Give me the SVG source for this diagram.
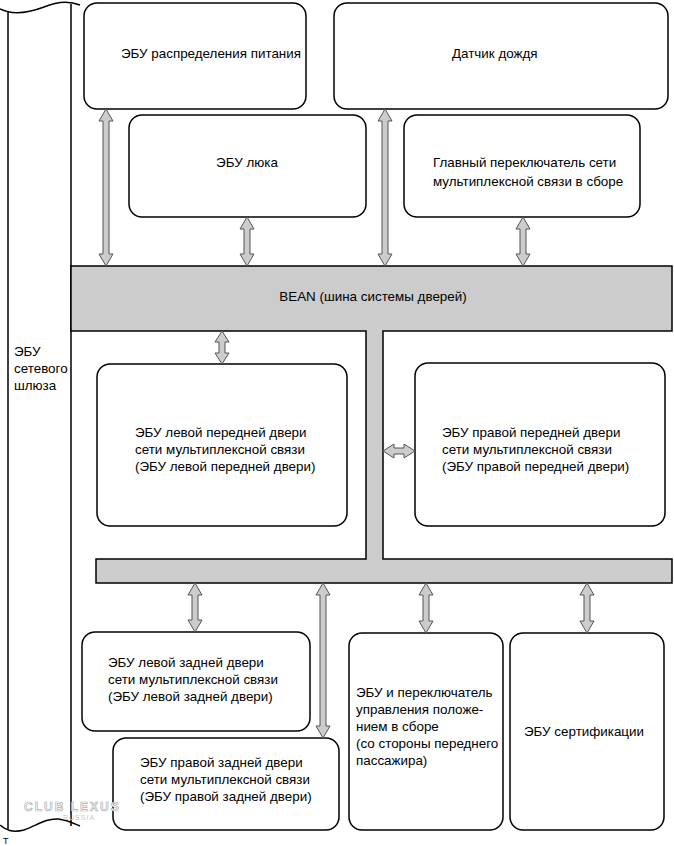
<svg xmlns="http://www.w3.org/2000/svg" width="674" height="846" viewBox="0 0 674 846">
<style>
.box{fill:#fff;stroke:#000;stroke-width:1.5}
.ln{fill:none;stroke:#000;stroke-width:1.5}
.bus{fill:#cccccc;stroke:#000;stroke-width:1.5}
.arr{fill:#cccccc;stroke:#555;stroke-width:1}
text{font-family:"Liberation Sans",Arial,sans-serif;font-size:13.4px;fill:#000}
.wm{font-family:"Liberation Sans",Arial,sans-serif;font-weight:bold;fill:#fff;stroke:#b0b0b0;stroke-width:0.7}
</style>
<rect width="674" height="846" fill="#fff"/>

<g id="gateway">
<path class="ln" d="M8,12 V829 M71,4 V826"/>
<path class="ln" d="M0,9 C12,15 28,13 44,7 C58,1 70,1 80,5"/>
<path class="ln" d="M0,825 C6,830 12,833 24,830 C36,826 46,818 58,819 C68,820 75,824 80,826"/>
<text x="14" y="356">ЭБУ</text>
<text x="14" y="373">сетевого</text>
<text x="14" y="390">шлюза</text>
<text x="3" y="844" style="font-size:9px">Т</text>
</g>

<g id="bean">
<path class="bus" d="M71,266 H672 V331 H383 V559 H672 V583 H96 V559 H366 V331 H71 Z"/>
<text x="373" y="301" text-anchor="middle">BEAN (шина системы дверей)</text>
</g>

<g id="power">
<rect class="box" x="84" y="3" width="222" height="106" rx="13"/>
<text x="121" y="58">ЭБУ распределения питания</text>
</g>
<g id="rain">
<rect class="box" x="334" y="3" width="334" height="106" rx="13"/>
<text x="452" y="58">Датчик дождя</text>
</g>
<g id="sunroof">
<rect class="box" x="129" y="115" width="237" height="102" rx="13"/>
<text x="247" y="167" text-anchor="middle">ЭБУ люка</text>
</g>
<g id="mainswitch">
<rect class="box" x="404" y="115" width="236" height="102" rx="13"/>
<text x="433" y="167">Главный переключатель сети</text>
<text x="433" y="186">мультиплексной связи в сборе</text>
</g>

<g id="frontleft">
<rect class="box" x="97" y="364" width="250" height="162" rx="13"/>
<text x="135" y="437">ЭБУ левой передней двери</text>
<text x="135" y="454">сети мультиплексной связи</text>
<text x="135" y="471">(ЭБУ левой передней двери)</text>
</g>
<g id="frontright">
<rect class="box" x="415" y="363" width="250" height="163" rx="13"/>
<text x="442" y="437">ЭБУ правой передней двери</text>
<text x="442" y="454">сети мультиплексной связи</text>
<text x="442" y="471">(ЭБУ правой передней двери)</text>
</g>

<g id="rearleft">
<rect class="box" x="82" y="632" width="228" height="99" rx="13"/>
<text x="108" y="667">ЭБУ левой задней двери</text>
<text x="108" y="684">сети мультиплексной связи</text>
<text x="108" y="701">(ЭБУ левой задней двери)</text>
</g>
<g id="rearright">
<rect class="box" x="113" y="738" width="226" height="92" rx="13"/>
<text x="140" y="767">ЭБУ правой задней двери</text>
<text x="140" y="784">сети мультиплексной связи</text>
<text x="140" y="801">(ЭБУ правой задней двери)</text>
</g>
<g id="passenger">
<rect class="box" x="349" y="633" width="154" height="197" rx="13"/>
<text x="356" y="697">ЭБУ и переключатель</text>
<text x="356" y="714">управления положе-</text>
<text x="356" y="731">нием в сборе</text>
<text x="356" y="748">(со стороны переднего</text>
<text x="356" y="765">пассажира)</text>
</g>
<g id="cert">
<rect class="box" x="510" y="633" width="154" height="197" rx="13"/>
<text x="524" y="736">ЭБУ сертификации</text>
</g>

<g id="connectors">
<path class="arr" d="M106,109 L113,121 L109,121 L109,254 L113,254 L106,266 L99,254 L103,254 L103,121 L99,121 Z"/>
<path class="arr" d="M247,217 L254,229 L250,229 L250,254 L254,254 L247,266 L240,254 L244,254 L244,229 L240,229 Z"/>
<path class="arr" d="M385,109 L392,121 L388,121 L388,254 L392,254 L385,266 L378,254 L382,254 L382,121 L378,121 Z"/>
<path class="arr" d="M523,217 L530,229 L526,229 L526,254 L530,254 L523,266 L516,254 L520,254 L520,229 L516,229 Z"/>
<path class="arr" d="M222,331 L229,342 L225,342 L225,353 L229,353 L222,364 L215,353 L219,353 L219,342 L215,342 Z"/>
<path class="arr" d="M383,451 L394,444 L394,448 L404,448 L404,444 L415,451 L404,458 L404,454 L394,454 L394,458 Z"/>
<path class="arr" d="M195,583 L202,595 L198,595 L198,620 L202,620 L195,632 L188,620 L192,620 L192,595 L188,595 Z"/>
<path class="arr" d="M323,583 L330,595 L326,595 L326,726 L330,726 L323,738 L316,726 L320,726 L320,595 L316,595 Z"/>
<path class="arr" d="M426,583 L433,595 L429,595 L429,621 L433,621 L426,633 L419,621 L423,621 L423,595 L419,595 Z"/>
<path class="arr" d="M587,583 L594,595 L590,595 L590,621 L594,621 L587,633 L580,621 L584,621 L584,595 L580,595 Z"/>
</g>

<g id="watermark">
<text class="wm" x="24" y="811" style="font-size:12px;letter-spacing:2px">CLUB LEXUS</text>
<text x="63" y="820" style="font-size:7px;fill:#c8c8c8;letter-spacing:1px">RUSSIA</text>
</g>
</svg>
